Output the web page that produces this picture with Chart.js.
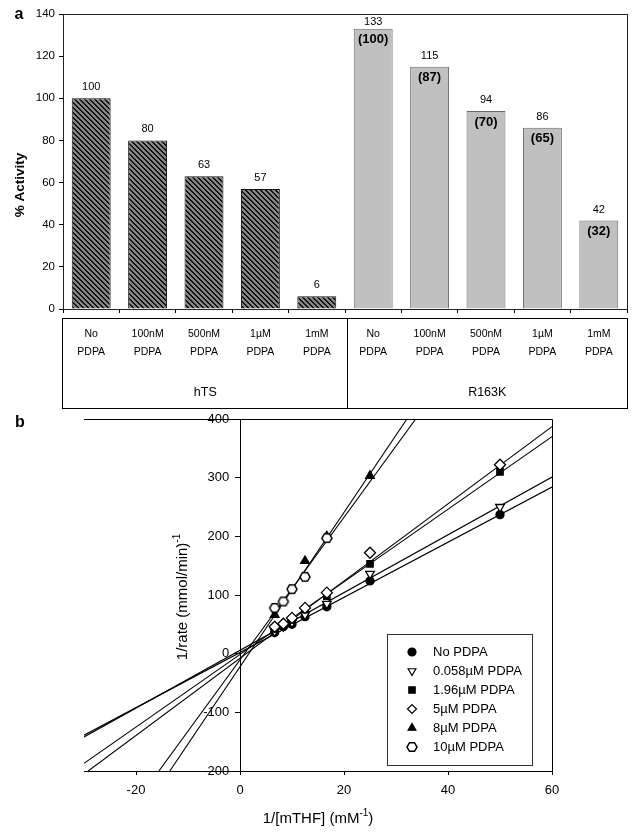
<!DOCTYPE html>
<html>
<head>
<meta charset="utf-8">
<script src="https://cdn.jsdelivr.net/npm/chart.js"></script>
<style>
  html, body { margin: 0; padding: 0; background: #fff; }
  #wrap { position: relative; width: 640px; height: 835px; }
  canvas { position: absolute; left: 0; }
  #cA { top: 0; }
  #cB { top: 400px; }
</style>
</head>
<body>
<div id="wrap">
  <canvas id="cA" width="640" height="415"></canvas>
  <canvas id="cB" width="640" height="435"></canvas>
</div>
<script>
const FONT = '"Liberation Sans", Arial, sans-serif';
Chart.defaults.font.family = FONT;
Chart.defaults.color = '#000';

// ---- panel a data ----
const doses = ['No', '100nM', '500nM', '1µM', '1mM'];
const groups = ['hTS', 'R163K'];
const htsActivity = [100, 80, 63, 57, 6];
const r163kActivity = [133, 115, 94, 86, 42];
const r163kRelative = [100, 87, 70, 65, 32];   // bold numbers in brackets
const activityTicks = [0, 20, 40, 60, 80, 100, 120, 140];

// ---- panel b data ----
const invConc = [6.67, 8.33, 10, 12.5, 16.7, 25, 50];
const rateNone = [36, 46, 50, 63, 80, 124, 237];
const rate0058 = [38, 47, 53, 66, 85, 136, 250];
const rate196 = [42, 48, 57, 75, 98, 153, 310];
const rate5 = [46, 51, 61, 78, 104, 172, 322];
const invConc8 = [6.67, 12.5, 16.7, 25];
const rate8 = [66, 158, 200, 303];
const invConc10 = [6.67, 8.33, 10, 12.5, 16.7];
const rate10 = [78, 89, 110, 131, 197];
// fitted lines: end points where each line leaves the frame
const fitNone = [[-30, -139], [60, 284]];
const fit0058 = [[-30, -142], [60, 301]];
const fit196 = [[-30, -187], [60, 370]];
const fit5 = [[-29.2, -200], [60, 387]];
const fit8 = [[-13.5, -200], [32.1, 400]];
const fit10 = [[-15.6, -200], [33.8, 400]];
const seriesNames = ['No PDPA', '0.058µM PDPA', '1.96µM PDPA', '5µM PDPA', '8µM PDPA', '10µM PDPA'];
const xTicksB = [-20, 0, 20, 40, 60];
const yTicksB = [-200, -100, 0, 100, 200, 300, 400];

// hatch for the hTS bars
function makeHatch() {
  const n = 5;
  const c = document.createElement('canvas');
  c.width = n; c.height = n;
  const g = c.getContext('2d');
  g.fillStyle = '#858585';
  g.fillRect(0, 0, n, n);
  g.fillStyle = '#111';
  for (let i = 0; i < n; i++) {
    g.fillRect(i, i, 1, 1);
    g.fillRect((i + 1) % n, i, 1, 1);
  }
  return g.createPattern(c, 'repeat');
}

// open hexagon marker
function makeHexagon(r) {
  const s = Math.ceil(2 * r + 4);
  const c = document.createElement('canvas');
  c.width = s; c.height = s;
  const g = c.getContext('2d');
  g.translate(s / 2, s / 2);
  g.beginPath();
  for (let k = 0; k < 6; k++) {
    const a = k * Math.PI / 3;
    const px = r * Math.cos(a), py = r * Math.sin(a);
    k ? g.lineTo(px, py) : g.moveTo(px, py);
  }
  g.closePath();
  g.fillStyle = '#fff'; g.fill();
  g.strokeStyle = '#000'; g.lineWidth = 1.5; g.stroke();
  return c;
}

// ================= panel a =================
const activity = htsActivity.concat(r163kActivity);
const hatch = makeHatch();
const barLabels = groups.flatMap(g => doses.map(d => d + ' PDPA'));

const frameA = {
  id: 'frameA',
  afterDraw(chart) {
    const { ctx, chartArea: a } = chart;
    ctx.save();
    ctx.strokeStyle = '#222';
    ctx.lineWidth = 1;
    ctx.strokeRect(a.left + 0.5, a.top + 0.5, a.right - a.left, a.bottom - a.top);

    // value labels
    const bars = chart.getDatasetMeta(0).data;
    ctx.fillStyle = '#000';
    ctx.textAlign = 'center';
    ctx.textBaseline = 'middle';
    bars.forEach((bar, i) => {
      ctx.font = '11px ' + FONT;
      ctx.fillText(String(activity[i]), bar.x, Math.max(bar.y - 11, a.top + 8));
      if (i >= htsActivity.length) {
        ctx.font = 'bold 13px ' + FONT;
        ctx.fillText('(' + r163kRelative[i - htsActivity.length] + ')', bar.x, bar.y + 11);
      }
    });

    // table below the axis
    const xs = chart.scales.x;
    const top = a.bottom + 9, bottom = a.bottom + 99;
    ctx.strokeStyle = '#000';
    ctx.strokeRect(a.left - 0.5, top + 0.5, a.right - a.left + 1, bottom - top);
    const mid = Math.round((xs.getPixelForValue(4) + xs.getPixelForValue(5)) / 2) + 2.5;
    ctx.beginPath(); ctx.moveTo(mid, top); ctx.lineTo(mid, bottom); ctx.stroke();
    ctx.font = '10.5px ' + FONT;
    barLabels.forEach((lab, i) => {
      const x = xs.getPixelForValue(i);
      const parts = lab.split(' ');
      ctx.fillText(parts[0], x, top + 16);
      ctx.fillText(parts[1], x, top + 34);
    });
    ctx.font = '12.5px ' + FONT;
    ctx.fillText(groups[0], (a.left + mid) / 2, top + 75);
    ctx.fillText(groups[1], (mid + a.right) / 2, top + 75);

    // y title and panel letter
    ctx.font = 'bold 13.5px ' + FONT;
    ctx.save();
    ctx.translate(20, 185);
    ctx.rotate(-Math.PI / 2);
    ctx.fillText('% Activity', 0, 0);
    ctx.restore();
    ctx.font = 'bold 16px ' + FONT;
    ctx.fillText('a', 19, 15);
    ctx.restore();
  }
};

new Chart(document.getElementById('cA'), {
  type: 'bar',
  data: {
    labels: barLabels,
    datasets: [{
      data: activity,
      backgroundColor: activity.map((v, i) => i < htsActivity.length ? hatch : '#c0c0c0'),
      borderColor: activity.map((v, i) => i < htsActivity.length ? '#111' : '#6a6a6a'),
      borderWidth: 1,
      barPercentage: 0.69,
      categoryPercentage: 1
    }]
  },
  options: {
    responsive: false,
    animation: false,
    devicePixelRatio: 1,
    layout: { padding: { top: 14, right: 13, left: 0, bottom: 0 } },
    plugins: { legend: { display: false }, tooltip: { enabled: false } },
    scales: {
      x: {
        grid: { offset: true, drawOnChartArea: false, tickLength: 4, color: '#000' },
        border: { color: '#000' },
        ticks: { display: false },
        afterFit(s) { s.height = 106; }
      },
      y: {
        min: 0, max: 140,
        afterBuildTicks(s) { s.ticks = activityTicks.map(v => ({ value: v })); },
        ticks: { font: { size: 11.5 }, padding: 4, color: '#000' },
        grid: { drawOnChartArea: false, tickLength: 4, color: '#000' },
        border: { color: '#000' },
        afterFit(s) { s.width = 63; }
      }
    }
  },
  plugins: [frameA]
});

// ================= panel b =================
const hexagon = makeHexagon(5);
const pts = (xs, ys) => xs.map((x, i) => ({ x: x, y: ys[i] }));
const seg = f => f.map(p => ({ x: p[0], y: p[1] }));

const markers = [
  { pointStyle: 'circle', radius: 4, fill: '#000', rotation: 0 },
  { pointStyle: 'triangle', radius: 5, fill: '#fff', rotation: 180 },
  { pointStyle: 'rect', radius: 4.5, fill: '#000', rotation: 0 },
  { pointStyle: 'rectRot', radius: 5.5, fill: '#fff', rotation: 0 },
  { pointStyle: 'triangle', radius: 5, fill: '#000', rotation: 0 },
  { pointStyle: hexagon, radius: 5, fill: '#fff', rotation: 0 }
];
const pointSets = [
  pts(invConc, rateNone), pts(invConc, rate0058), pts(invConc, rate196),
  pts(invConc, rate5), pts(invConc8, rate8), pts(invConc10, rate10)
];
const fitSets = [fitNone, fit0058, fit196, fit5, fit8, fit10];
const pointOrder = [5, 4, 3, 2, 1, 0];

const datasetsB = [];
fitSets.forEach((f, i) => {
  datasetsB.push({
    data: seg(f), showLine: true, borderColor: '#000', borderWidth: 1.1,
    pointRadius: 0, order: 10
  });
});
pointSets.forEach((p, i) => {
  const m = markers[i];
  datasetsB.push({
    label: seriesNames[i],
    data: p,
    showLine: false,
    pointStyle: m.pointStyle,
    pointRadius: m.radius,
    pointRotation: m.rotation,
    pointBackgroundColor: m.fill,
    pointBorderColor: '#000',
    pointBorderWidth: 1.3,
    order: pointOrder[i]
  });
});

const frameB = {
  id: 'frameB',
  afterDraw(chart) {
    const { ctx, chartArea: a } = chart;
    ctx.save();
    ctx.strokeStyle = '#000';
    ctx.lineWidth = 1;
    ctx.beginPath();
    ctx.moveTo(a.left, a.top + 0.5);
    ctx.lineTo(a.right + 0.5, a.top + 0.5);
    ctx.lineTo(a.right + 0.5, a.bottom);
    ctx.stroke();

    // legend box
    const bx = 387, by = 234, bw = 145, bh = 131;
    ctx.fillStyle = '#fff';
    ctx.fillRect(bx, by, bw, bh);
    ctx.strokeStyle = '#333';
    ctx.strokeRect(bx + 0.5, by + 0.5, bw, bh);
    ctx.font = '13px ' + FONT;
    ctx.textBaseline = 'middle';
    ctx.textAlign = 'left';
    seriesNames.forEach((name, i) => {
      const m = markers[i];
      const y = by + 18 + i * 19;
      ctx.fillStyle = m.fill;
      ctx.strokeStyle = '#000';
      ctx.lineWidth = 1.2;
      Chart.helpers.drawPoint(ctx, {
        pointStyle: m.pointStyle, rotation: m.rotation,
        radius: Math.min(m.radius, 4.5), borderWidth: 1.2
      }, bx + 25, y);
      ctx.fillStyle = '#000';
      ctx.fillText(name, bx + 46, y);
    });

    // axis titles with superscripts
    ctx.fillStyle = '#000';
    ctx.textBaseline = 'alphabetic';
    const big = '15px ' + FONT, small = '10px ' + FONT;
    const drawSup = (base, sup, tail, cx, cy) => {
      ctx.font = big; const w1 = ctx.measureText(base).width;
      const w3 = ctx.measureText(tail).width;
      ctx.font = small; const w2 = ctx.measureText(sup).width;
      let x = cx - (w1 + w2 + w3) / 2;
      ctx.font = big; ctx.fillText(base, x, cy); x += w1;
      ctx.font = small; ctx.fillText(sup, x, cy - 7); x += w2;
      ctx.font = big; ctx.fillText(tail, x, cy);
    };
    drawSup('1/[mTHF] (mM', '-1', ')', 318, 423);
    ctx.save();
    ctx.translate(187, 197);
    ctx.rotate(-Math.PI / 2);
    drawSup('1/rate (mmol/min)', '-1', '', 0, 0);
    ctx.restore();

    ctx.font = 'bold 16px ' + FONT;
    ctx.textAlign = 'center';
    ctx.fillText('b', 20, 27);
    ctx.restore();
  }
};

new Chart(document.getElementById('cB'), {
  type: 'scatter',
  data: { datasets: datasetsB },
  options: {
    responsive: false,
    animation: false,
    devicePixelRatio: 1,
    layout: { padding: { top: 19, left: 84, right: 88, bottom: 0 } },
    plugins: { legend: { display: false }, tooltip: { enabled: false } },
    scales: {
      x: {
        type: 'linear', min: -30, max: 60,
        afterBuildTicks(s) { s.ticks = xTicksB.map(v => ({ value: v })); },
        ticks: { font: { size: 13 }, padding: 8, color: '#000' },
        grid: { drawOnChartArea: false, tickLength: 4, color: '#000' },
        border: { color: '#000' },
        afterFit(s) { s.height = 64; }
      },
      y: {
        type: 'linear', min: -200, max: 400,
        position: { x: 0 },
        afterBuildTicks(s) { s.ticks = yTicksB.map(v => ({ value: v })); },
        ticks: { font: { size: 13 }, color: '#000', callback: v => v + '   ' },
        grid: { drawOnChartArea: false, tickLength: 5, color: '#000' },
        border: { color: '#000' }
      }
    }
  },
  plugins: [frameB]
});
</script>
</body>
</html>
